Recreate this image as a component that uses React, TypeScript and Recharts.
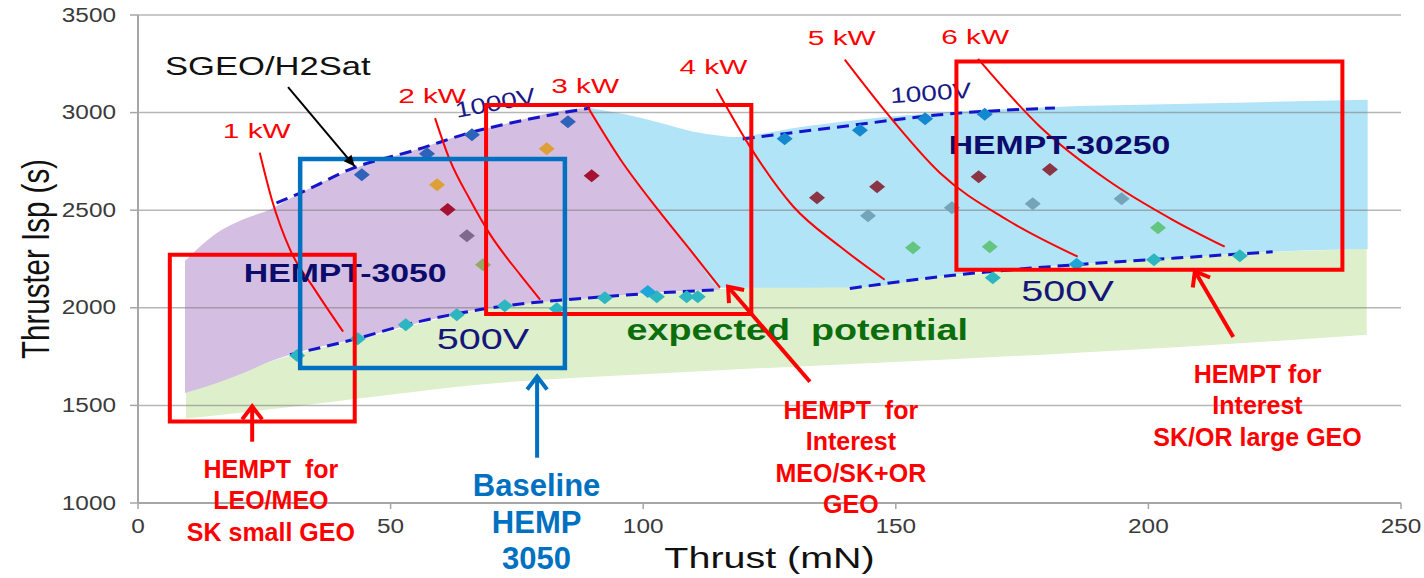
import React from "react";
import {
  Area,
  CartesianGrid,
  ComposedChart,
  Line,
  ReferenceArea,
  Scatter,
  XAxis,
  YAxis,
} from "recharts";

type Pt = [number, number];

const FONT = '"Liberation Sans", Arial, Helvetica, sans-serif';
const STRETCH = 1.3; // the source slide is stretched sideways

const xTicks = [0, 50, 100, 150, 200, 250];
const yTicks = [1000, 1500, 2000, 2500, 3000, 3500];

// shaded envelopes: thrust (mN), lower / upper Isp (s)
const greenThrust = [9.5, 22, 50, 67.7, 100, 115, 159, 186, 225, 243.2];
const greenLow = [1433, 1468, 1555, 1607, 1660, 1680, 1734, 1770, 1830, 1862];
const greenHigh = [1565, 1690, 1880, 1991, 2070, 2095, 2160, 2222, 2287, 2303];

const purpleThrust = [9.3, 15.6, 21, 26.1, 30.1, 43, 55, 66, 72, 89.5, 96.8, 103.3, 110, 115.2];
const purpleLow = [1563, 1615, 1667, 1725, 1760, 1840, 1920, 1985, 2008, 2050, 2066, 2080, 2088, 2093];
const purpleHigh = [2240, 2383, 2455, 2503, 2560, 2716, 2810, 2899, 2938, 3024, 2718, 2500, 2275, 2103];

const blueThrust = [89.5, 96.8, 103.3, 110, 115.2, 118.5, 122, 129.6, 142.9, 158.7, 181.5, 200.9, 224.6, 243.4];
const blueLow = [3024, 2718, 2500, 2275, 2103, 2103, 2103, 2103, 2105, 2160, 2215, 2247, 2287, 2301];
const blueHigh = [3024, 2989, 2948, 2902, 2882, 2875, 2886, 2920, 2964, 2999, 3029, 3041, 3055, 3066];

// voltage limits (dashed)
const v1000Left: Pt[] = [[27.4, 2537], [32.1, 2588], [42.6, 2716], [55.2, 2810], [66, 2899], [72.2, 2938], [89.5, 3024]];
const v1000Right: Pt[] = [[119.7, 2865], [139.5, 2929], [158.7, 2989], [181.5, 3024]];
const v500Left: Pt[] = [[30.1, 1760], [43.3, 1842], [53.2, 1914], [67.7, 1991], [92.8, 2058], [115.2, 2093]];
const v500Right: Pt[] = [[140.9, 2099], [158.7, 2159], [185.8, 2221], [200.9, 2247], [224.6, 2287]];

// constant power curves
const kwCurves: { name: string; pts: Pt[] }[] = [
  { name: "1 kW", pts: [[24.1, 2795], [26.5, 2554], [30.1, 2298], [35.0, 2093], [40.6, 1878]] },
  { name: "2 kW", pts: [[58.8, 2972], [61.7, 2759], [65.7, 2555], [69.7, 2376], [75.6, 2171], [79.6, 2042]] },
  { name: "3 kW", pts: [[89.1, 3025], [95.5, 2760], [103, 2500], [109.5, 2290], [115.2, 2103]] },
  { name: "4 kW", pts: [[114.5, 3121], [121.1, 2827], [129.7, 2519], [138.9, 2315], [147.8, 2144]] },
  { name: "5 kW", pts: [[139.9, 3271], [148.8, 2979], [158.7, 2692], [172, 2451], [186, 2262]] },
  { name: "6 kW", pts: [[166.3, 3275], [178.5, 2929], [191.8, 2656], [204.8, 2451], [215.1, 2313]] },
];

// measured operating points
const ptNavy: Pt[] = [[44.3, 2682], [57.2, 2789], [66.1, 2887], [85.1, 2953]];
const ptAzure: Pt[] = [[128, 2866], [142.9, 2910], [155.8, 2969], [167.6, 2992]];
const ptOrange: Pt[] = [[59.2, 2631], [80.9, 2815]];
const ptCrimson: Pt[] = [[61.3, 2503], [89.8, 2677]];
const ptMauve: Pt[] = [[65.1, 2369]];
const ptOlive: Pt[] = [[68.3, 2221]];
const ptMaroon: Pt[] = [[134.4, 2564], [146.3, 2620], [166.4, 2672], [180.5, 2708]];
const ptSlate: Pt[] = [[144.5, 2472], [161.1, 2513], [177.1, 2533], [194.7, 2559]];
const ptGreen: Pt[] = [[153.4, 2308], [168.6, 2313], [201.9, 2410]];
const ptTeal: Pt[] = [
  [31.5, 1755], [43.5, 1842], [53, 1913], [63.1, 1965], [72.6, 2011], [82.9, 1995], [92.4, 2052],
  [102.7, 2057], [108.6, 2057], [110.8, 2057], [169.2, 2154], [201.1, 2246], [218.1, 2267],
];
const ptCyan: Pt[] = [[100.9, 2083], [185.8, 2223]];

// highlight boxes [x1, x2, y1, y2]
const redBoxes = [
  [6.3, 42.9, 1418, 2272],
  [68.9, 121.4, 1968, 3039],
  [162, 238.4, 2195, 3262],
];
const blueBox = [32.1, 84.5, 1692, 2762];

// arrows: tail -> head
const redArrows: Pt[][] = [
  [[22.6, 1314], [22.6, 1495]],
  [[133, 1621], [116.8, 2108]],
  [[216.8, 1850], [209.2, 2187]],
];
const blueArrow: Pt[] = [[79, 1232], [79, 1648]];
const blackArrow: Pt[] = [[29.7, 3131], [42.9, 2724]];

// text notes
const sgeoNote = [{ x: 25.7, y: 3240, lines: ["SGEO/H2Sat"] }];
const modelNotes = [
  { x: 41, y: 2177, lines: ["HEMPT-3050"] },
  { x: 182.4, y: 2836, lines: ["HEMPT-30250"] },
];
const v1000NoteA = [{ x: 70.7, y: 3051, lines: ["1000V"] }];
const v1000NoteB = [{ x: 156.9, y: 3102, lines: ["1000V"] }];
const v500Notes = [
  { x: 68.3, y: 1842, lines: ["500V"] },
  { x: 184, y: 2088, lines: ["500V"] },
];
const potentialNote = [{ x: 130.5, y: 1888, lines: ["expected  potential"] }];
const redNotes = [
  { x: 26.3, y: 1176, lines: ["HEMPT  for", "LEO/MEO", "SK small GEO"] },
  { x: 141.1, y: 1478, lines: ["HEMPT  for", "Interest", "MEO/SK+OR", "GEO"] },
  { x: 221.6, y: 1662, lines: ["HEMPT for", "Interest", "SK/OR large GEO"] },
];
const baselineNote = [{ x: 78.9, y: 1088, lines: ["Baseline", "HEMP", "3050"] }];

const toPts = (pts: Pt[]) => pts.map(([x, y]) => ({ x, y }));
const toBand = (xs: number[], lo: number[], hi: number[]) =>
  xs.map((x, i) => ({ x, r: [lo[i], hi[i]] }));

type TxtProps = {
  x: number;
  y: number;
  lines: string[];
  size: number;
  color: string;
  bold?: boolean;
  sx?: number;
  angle?: number;
  gap?: number;
};

function Txt({ x, y, lines, size, color, bold, sx = STRETCH, angle = 0, gap = 0 }: TxtProps) {
  return (
    <g transform={`translate(${x},${y}) rotate(${angle}) scale(${sx},1)`}>
      {lines.map((t, i) => (
        <text
          key={i}
          x={0}
          y={i * gap}
          textAnchor="middle"
          dominantBaseline="central"
          fontFamily={FONT}
          fontSize={size}
          fontWeight={bold ? 700 : 400}
          fill={color}
          style={{ whiteSpace: "pre" }}
        >
          {t}
        </text>
      ))}
    </g>
  );
}

const noteShape = (style: Omit<TxtProps, "x" | "y" | "lines">) => (p: any) =>
  <Txt x={p.cx} y={p.cy} lines={p.payload.lines} {...style} />;

const diamond = (color: string) => (p: any) =>
  (
    <polygon
      points={`${p.cx},${p.cy - 6.5} ${p.cx + 8},${p.cy} ${p.cx},${p.cy + 6.5} ${p.cx - 8},${p.cy}`}
      fill={color}
    />
  );

const YTick = (p: any) => (
  <g transform={`translate(${p.x},${p.y}) scale(1.25,1)`}>
    <text textAnchor="end" dominantBaseline="central" fontFamily={FONT} fontSize={19.5} fill="#3a3a3a">
      {p.payload.value}
    </text>
  </g>
);

const XTick = (p: any) => (
  <g transform={`translate(${p.x},${p.y}) scale(1.25,1)`}>
    <text textAnchor="middle" dominantBaseline="central" fontFamily={FONT} fontSize={19.5} fill="#3a3a3a">
      {p.payload.value}
    </text>
  </g>
);

const XTitle = (p: any) => {
  const vb = p.viewBox;
  return <Txt x={vb.x + vb.width / 2} y={vb.y + 55} lines={["Thrust (mN)"]} size={29} color="#111" sx={1.36} />;
};

const YTitle = (p: any) => {
  const vb = p.viewBox;
  return (
    <g transform={`translate(${vb.x + 35},${vb.y + vb.height / 2}) rotate(-90) scale(1,1.32)`}>
      <text textAnchor="middle" dominantBaseline="central" fontFamily={FONT} fontSize={29.5} fill="#111">
        Thruster Isp (s)
      </text>
    </g>
  );
};

const dots = [
  { pts: ptNavy, color: "#2f63b9" },
  { pts: ptAzure, color: "#1488cf" },
  { pts: ptOrange, color: "#dea036" },
  { pts: ptCrimson, color: "#a3122f" },
  { pts: ptMauve, color: "#7e6a8e" },
  { pts: ptOlive, color: "#93aa66" },
  { pts: ptMaroon, color: "#8a3444" },
  { pts: ptSlate, color: "#74a4b8" },
  { pts: ptGreen, color: "#64c580" },
  { pts: ptTeal, color: "#2cb6c1" },
  { pts: ptCyan, color: "#1ea6d8" },
];

export default function App() {
  return (
    <div style={{ position: "absolute", left: 0, top: 0, width: 1424, height: 578, background: "#fff" }}>
      <ComposedChart width={1424} height={578} margin={{ top: 15, right: 23, bottom: 45, left: 0 }}>
        <defs>
          <marker id="headRed" viewBox="-18 -14 24 28" markerWidth={24} markerHeight={28} refX={0} refY={0}
            orient="auto" markerUnits="userSpaceOnUse">
            <path d="M-13,-10 L0,0 L-13,10" fill="none" stroke="#ff0000" strokeWidth={4} />
          </marker>
          <marker id="headBlue" viewBox="-18 -14 24 28" markerWidth={24} markerHeight={28} refX={0} refY={0}
            orient="auto" markerUnits="userSpaceOnUse">
            <path d="M-13,-10 L0,0 L-13,10" fill="none" stroke="#0070c0" strokeWidth={4} />
          </marker>
          <marker id="headBlack" viewBox="-14 -8 16 16" markerWidth={16} markerHeight={16} refX={0} refY={0}
            orient="auto" markerUnits="userSpaceOnUse">
            <path d="M-11,-5 L0,0 L-11,5 Z" fill="#000" />
          </marker>
        </defs>

        <XAxis
          type="number"
          dataKey="x"
          domain={[0, 250]}
          ticks={xTicks}
          interval={0}
          height={30}
          axisLine={{ stroke: "#a6a6a6", strokeWidth: 2 }}
          tickLine={{ stroke: "#a6a6a6", strokeWidth: 1.5 }}
          tickSize={6}
          tickMargin={17}
          tick={XTick}
          label={XTitle}
        />
        <YAxis
          type="number"
          dataKey="y"
          domain={[1000, 3500]}
          ticks={yTicks}
          interval={0}
          width={138}
          axisLine={{ stroke: "#a6a6a6", strokeWidth: 2 }}
          tickLine={{ stroke: "#a6a6a6", strokeWidth: 1.5 }}
          tickSize={8}
          tickMargin={14}
          tick={YTick}
          label={YTitle}
        />

        <Area data={toBand(greenThrust, greenLow, greenHigh)} dataKey="r" type="monotone"
          fill="#ddefcb" fillOpacity={1} stroke="none" isAnimationActive={false} />
        <Area data={toBand(purpleThrust, purpleLow, purpleHigh)} dataKey="r" type="monotone"
          fill="#d4bfe2" fillOpacity={1} stroke="none" isAnimationActive={false} />
        <Area data={toBand(blueThrust, blueLow, blueHigh)} dataKey="r" type="monotone"
          fill="#b1e4f6" fillOpacity={1} stroke="none" isAnimationActive={false} />

        <CartesianGrid vertical={false} stroke="#7a7a7a" strokeOpacity={0.55} strokeWidth={1.5} zIndex={150} />

        {[v1000Left, v1000Right, v500Left, v500Right].map((seg, i) => (
          <Line key={`v${i}`} data={toPts(seg)} dataKey="y" type="monotone" stroke="#1414cc"
            strokeWidth={3} strokeDasharray="12 7" dot={false} activeDot={false} isAnimationActive={false} />
        ))}

        {dots.map((d, i) => (
          <Scatter key={`d${i}`} data={toPts(d.pts)} dataKey="y" shape={diamond(d.color)} isAnimationActive={false} />
        ))}

        {kwCurves.map((c) => (
          <Line
            key={c.name}
            data={toPts(c.pts)}
            dataKey="y"
            type="monotone"
            stroke="#ff0000"
            strokeWidth={2}
            activeDot={false}
            isAnimationActive={false}
            zIndex={620}
            dot={(p: any) =>
              p.index === 0 ? (
                <Txt key={`${c.name}-l`} x={p.cx - 3} y={p.cy - 22} lines={[c.name]} size={21} color="#ff0000" sx={1.42} />
              ) : (
                <g key={`${c.name}-${p.index}`} />
              )
            }
          />
        ))}

        <Scatter data={sgeoNote} dataKey="y" isAnimationActive={false} zIndex={700}
          shape={noteShape({ size: 26, color: "#111", sx: 1.33 })} />
        <Scatter data={modelNotes} dataKey="y" isAnimationActive={false} zIndex={700}
          shape={noteShape({ size: 26, color: "#0c0c6c", bold: true })} />
        <Scatter data={v1000NoteA} dataKey="y" isAnimationActive={false} zIndex={700}
          shape={noteShape({ size: 22, color: "#1a1a86", sx: 1.28, angle: -11 })} />
        <Scatter data={v1000NoteB} dataKey="y" isAnimationActive={false} zIndex={700}
          shape={noteShape({ size: 22, color: "#1a1a86", sx: 1.28, angle: -4 })} />
        <Scatter data={v500Notes} dataKey="y" isAnimationActive={false} zIndex={700}
          shape={noteShape({ size: 30, color: "#16167a", sx: 1.32 })} />
        <Scatter data={potentialNote} dataKey="y" isAnimationActive={false} zIndex={700}
          shape={noteShape({ size: 29, color: "#0b6d0b", bold: true })} />
        <Scatter data={redNotes} dataKey="y" isAnimationActive={false} zIndex={700}
          shape={noteShape({ size: 25, color: "#ff0000", bold: true, sx: 1, gap: 31.6 })} />
        <Scatter data={baselineNote} dataKey="y" isAnimationActive={false} zIndex={700}
          shape={noteShape({ size: 31, color: "#0070c0", bold: true, sx: 1, gap: 36.5 })} />

        {redBoxes.map((b, i) => (
          <ReferenceArea key={`rb${i}`} x1={b[0]} x2={b[1]} y1={b[2]} y2={b[3]} fill="none" fillOpacity={0}
            stroke="#ff0000" strokeWidth={4} zIndex={800} />
        ))}
        <ReferenceArea x1={blueBox[0]} x2={blueBox[1]} y1={blueBox[2]} y2={blueBox[3]} fill="none" fillOpacity={0}
          stroke="#0070c0" strokeWidth={4.5} zIndex={800} />

        {redArrows.map((a, i) => (
          <Line key={`ra${i}`} data={toPts(a)} dataKey="y" type="linear" stroke="#ff0000" strokeWidth={4}
            dot={false} activeDot={false} isAnimationActive={false} markerEnd="url(#headRed)" zIndex={900} />
        ))}
        <Line data={toPts(blueArrow)} dataKey="y" type="linear" stroke="#0070c0" strokeWidth={4}
          dot={false} activeDot={false} isAnimationActive={false} markerEnd="url(#headBlue)" zIndex={900} />
        <Line data={toPts(blackArrow)} dataKey="y" type="linear" stroke="#000" strokeWidth={2}
          dot={false} activeDot={false} isAnimationActive={false} markerEnd="url(#headBlack)" zIndex={900} />
      </ComposedChart>
    </div>
  );
}
